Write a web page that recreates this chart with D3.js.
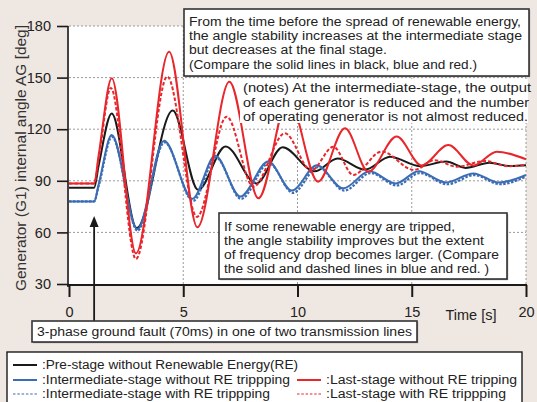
<!DOCTYPE html>
<html><head><meta charset="utf-8">
<script src="https://cdn.jsdelivr.net/npm/d3@7"></script>
<style>body{margin:0;background:#efe7e1;} svg{display:block}</style>
</head><body><svg id="c" width="537" height="402"></svg>
<script>
// ---- data ----
const xTicks = [0, 5, 10, 15, 20];
const yTicks = [30, 60, 90, 120, 150, 180];

const blackT = [0, 1.1, 1.3, 1.87, 2.96, 4.54, 5.65, 6.85, 8.2, 9.35, 10.75, 11.75, 12.95, 14.05, 15.35, 16.5, 17.35, 18.4, 19.3, 20];
const blackV = [86, 86, 99, 129.2, 62.5, 130.8, 84.8, 110, 88.5, 109.5, 95.5, 103, 96.5, 104, 98.5, 101.2, 97.5, 100.5, 98.6, 99];

const blueT = [0, 1.1, 1.3, 1.87, 2.99, 4.16, 5.4, 6.4, 7.5, 8.72, 9.75, 10.85, 12.0, 13.15, 14.3, 15.3, 16.5, 17.7, 18.8, 20];
const blueV = [78, 78, 88, 116.6, 61.8, 113.3, 79.5, 104.5, 80.8, 101.2, 84.3, 99, 85.6, 95.5, 88.5, 95.5, 89, 94.3, 89, 93.4];

const blueDT = [0, 1.1, 1.3, 1.88, 3.0, 4.18, 5.43, 6.43, 7.53, 8.75, 9.8, 10.9, 12.05, 13.2, 14.35, 15.35, 16.55, 17.75, 18.85, 20];
const blueDV = [78, 78, 87, 115.5, 61, 112.3, 78.3, 103.5, 79.5, 100.2, 83, 98, 84.3, 94.5, 87.3, 94.5, 88, 93.3, 88, 92.5];

const redT = [0, 1.1, 1.3, 1.87, 2.93, 4.38, 5.62, 7.02, 8.29, 9.6, 10.9, 12.08, 13.1, 14.34, 15.43, 16.6, 17.7, 18.72, 20];
const redV = [88.5, 88.5, 105, 149.6, 47.8, 165, 63, 147.6, 79.8, 138, 89.5, 120.5, 95.3, 115.7, 98.9, 110.8, 98.9, 106.9, 102.5];

const redDT = [0, 1.1, 1.3, 1.83, 2.93, 4.3, 5.6, 6.9, 8.07, 9.45, 10.6, 11.57, 12.44, 13.68, 15.1, 16.0, 16.97, 18.2, 19.2, 20];
const redDV = [88.5, 88.5, 103, 144, 44.5, 150.6, 69, 127.3, 86.6, 117.6, 96, 109.8, 93.4, 107, 96.3, 102, 98.2, 101.5, 98.5, 99.2];

const box1Lines = ["From the time before the spread of renewable energy,",
  "the angle stability increases at the intermediate stage",
  "but decreases at the final stage.",
  "(Compare the solid lines in black, blue and red.)"];
const box1Len = [332, 333, 198, 288];
const notesLines = ["(notes) At the intermediate-stage, the output",
  "of each generator is reduced and the number",
  "of operating generator is not almost reduced."];
const notesLen = [288, 286, 285];
const box2Lines = ["If some renewable energy are tripped,",
  "the angle stability improves but the extent",
  "of frequency drop becomes larger. (Compare",
  "the solid and dashed lines in blue and red. )"];
const box2Len = [231, 260, 275, 265];
const faultText = "3-phase ground fault (70ms) in one of two transmission lines";
const faultTime = 1.1;

const legendLabels = [":Pre-stage without Renewable Energy(RE)",
  ":Intermediate-stage without RE trippping",
  ":Intermediate-stage with RE trippping",
  ":Last-stage without RE tripping",
  ":Last-stage with RE trippping"];
const legendLen = [256, 248, 228, 191, 180];

// ---- build ----
const BLACK = "#1a1a1a", BLUE = "#3b6db5", RED = "#e8262b";
const series = [
  {t: blackT, v: blackV, color: BLACK, dash: null, w: 2},
  {t: blueT, v: blueV, color: BLUE, dash: null, w: 2},
  {t: blueDT, v: blueDV, color: BLUE, dash: "2.5,1.5", w: 2.2},
  {t: redDT, v: redDV, color: RED, dash: "3.5,2", w: 2},
  {t: redT, v: redV, color: RED, dash: null, w: 2},
];

const svg = d3.select("#c");
const x = d3.scaleLinear().domain([0, 20]).range([69, 526]);
const y = d3.scaleLinear().domain([30, 180]).range([284, 26]);
const FONT = "Liberation Sans, Arial, sans-serif";
const AFONT = "Liberation Sans, Arial, sans-serif";
const AFS = 12;

svg.append("rect").attr("width", 537).attr("height", 402).attr("fill", "#efe7e1");
svg.append("rect").attr("x", x(0)).attr("y", y(180)).attr("width", x(20) - x(0)).attr("height", y(30) - y(180)).attr("fill", "#fff");

// grid
const g = svg.append("g");
g.selectAll("line.h").data(yTicks.filter(d => d > 30)).join("line")
  .attr("x1", x(0)).attr("x2", x(20)).attr("y1", d => y(d)).attr("y2", d => y(d))
  .attr("stroke", "#9a9a9a").attr("stroke-width", 1).attr("stroke-dasharray", "2,2");
g.selectAll("line.v").data(xTicks.filter(d => d > 0)).join("line")
  .attr("x1", d => x(d)).attr("x2", d => x(d)).attr("y1", y(180)).attr("y2", y(30))
  .attr("stroke", "#9a9a9a").attr("stroke-width", 1).attr("stroke-dasharray", "2,2");

// series
const line = d3.line().x(d => x(d[0])).y(d => y(d[1])).curve(d3.curveMonotoneX);
series.forEach(s => {
  const pts = s.t.map((t, i) => [t, s.v[i]]);
  svg.append("path").attr("d", line(pts)).attr("fill", "none")
    .attr("stroke", s.color).attr("stroke-width", s.w)
    .attr("stroke-dasharray", s.dash);
});

function txt(t, x0, y0, len) {
  svg.append("text").attr("x", x0).attr("y", y0).text(t)
    .attr("font-family", AFONT).attr("font-size", AFS).attr("fill", "#222")
    .attr("textLength", len).attr("lengthAdjust", "spacingAndGlyphs");
}

// notes (white background, no border)
svg.append("rect").attr("x", 240).attr("y", 79).attr("width", 288).attr("height", 44).attr("fill", "#fff");
notesLines.forEach((t, i) => txt(t, 243, 92 + i * 14.5, notesLen[i]));

function box(x0, y0, w, h) {
  svg.append("rect").attr("x", x0 + 1.2).attr("y", y0 + 1.2).attr("width", w).attr("height", h).attr("fill", "#999");
  svg.append("rect").attr("x", x0).attr("y", y0).attr("width", w).attr("height", h)
    .attr("fill", "#fff").attr("stroke", "#333").attr("stroke-width", 1.6);
}
box(184, 9, 345, 67);
box1Lines.forEach((t, i) => txt(t, 189, 26 + i * 14.2, box1Len[i]));
box(219, 213, 288, 66);
box2Lines.forEach((t, i) => txt(t, 224, 231 + i * 14, box2Len[i]));

// axes
const yAxis = svg.append("g").attr("transform", `translate(${x(0) - 1},0)`)
  .call(d3.axisLeft(y).tickValues(yTicks).tickSize(11).tickPadding(6).tickSizeOuter(0));
yAxis.select(".domain").attr("stroke", BLACK).attr("stroke-width", 1.6).attr("d", `M0,${y(180)}V${y(30) + 3}`);
yAxis.selectAll(".tick line").attr("stroke", BLACK).attr("stroke-width", 1.6);
yAxis.selectAll("text").attr("font-family", FONT).attr("font-size", 14.5).attr("fill", "#222");

const xAxis = svg.append("g").attr("transform", `translate(0,${y(30) + 1})`)
  .call(d3.axisBottom(x).tickValues(xTicks).tickSize(12).tickPadding(10).tickSizeOuter(0));
xAxis.select(".domain").attr("stroke", BLACK).attr("stroke-width", 2.2).attr("d", `M${x(0) - 2},0H${x(20) + 1}`);
xAxis.selectAll(".tick line").attr("stroke", BLACK).attr("stroke-width", 2);
xAxis.selectAll("text").attr("font-family", FONT).attr("font-size", 14.5).attr("fill", "#222");

svg.append("text").attr("x", 471).attr("y", 320).attr("text-anchor", "middle").text("Time [s]")
  .attr("font-family", FONT).attr("font-size", 14.5).attr("fill", "#222");

svg.append("text").attr("transform", "translate(26,158) rotate(-90)").attr("text-anchor", "middle")
  .text("Generator (G1) internal angle AG [deg]")
  .attr("font-family", FONT).attr("font-size", 15).attr("fill", "#333")
  .attr("textLength", 266).attr("lengthAdjust", "spacingAndGlyphs");

// fault arrow + box
const fx = x(faultTime);
svg.append("line").attr("x1", fx).attr("x2", fx).attr("y1", 322).attr("y2", 224).attr("stroke", BLACK).attr("stroke-width", 1.8);
svg.append("path").attr("d", `M${fx},216L${fx - 4.5},227L${fx + 4.5},227Z`).attr("fill", BLACK);
box(32, 321, 385, 21);
txt(faultText, 37, 336, 375);

// legend
svg.append("rect").attr("x", 7).attr("y", 352).attr("width", 515).attr("height", 60)
  .attr("fill", "#fff").attr("stroke", BLACK).attr("stroke-width", 1.4);
const legendItems = [
  {s: series[0], lx: 13, ly: 365, label: 0},
  {s: series[1], lx: 13, ly: 380, label: 1},
  {s: series[2], lx: 13, ly: 394, label: 2},
  {s: series[4], lx: 297, ly: 380, label: 3},
  {s: series[3], lx: 297, ly: 394, label: 4},
];
legendItems.forEach(it => {
  svg.append("line").attr("x1", it.lx).attr("x2", it.lx + 24).attr("y1", it.ly).attr("y2", it.ly)
    .attr("stroke", it.s.color).attr("stroke-width", it.s.dash ? 1.2 : 2)
    .attr("stroke-dasharray", it.s.dash ? "2.5,1.8" : null);
  txt(legendLabels[it.label], it.lx + 29, it.ly + 4.3, legendLen[it.label]);
});
</script></body></html>
